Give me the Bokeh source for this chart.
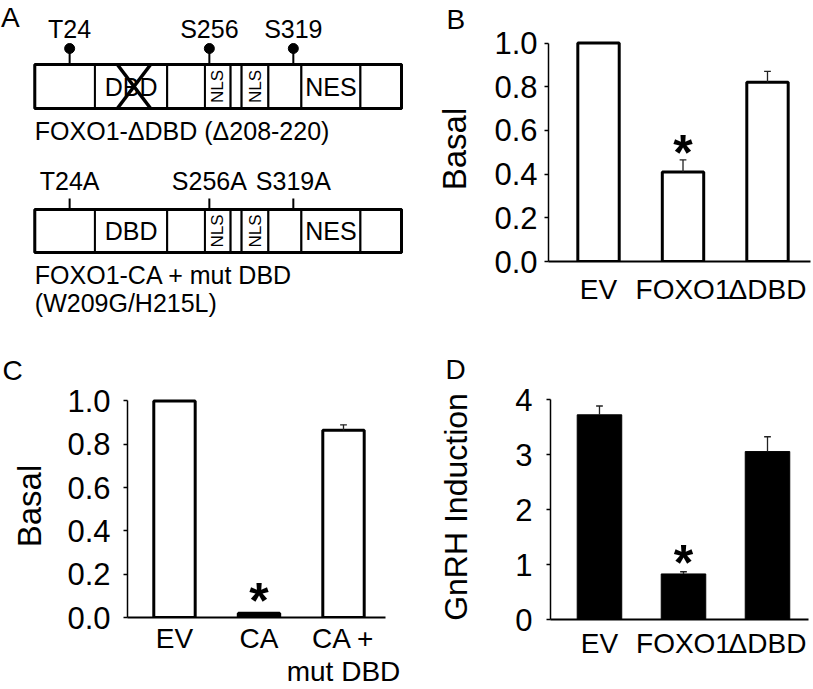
import math
from bokeh.plotting import figure
from bokeh.layouts import column, row
from bokeh.models import Range1d, FixedTicker, PrintfTickFormatter
from bokeh.embed import file_html
from bokeh.resources import INLINE
from bokeh.core.properties import value

FONT = "Liberation Sans"

# ---------------- data ----------------
# Panel B: basal activity
b_groups = ["EV", "FOXO1", "ΔDBD"]
b_basal = [1.00, 0.41, 0.82]
b_err = [0.0, 0.055, 0.05]
b_sig = [False, True, False]

# Panel C: basal activity, constitutively active mutants
c_groups = ["EV", "CA", "CA +\nmut DBD"]
c_basal = [1.00, 0.02, 0.865]
c_err = [0.0, 0.0, 0.025]
c_sig = [False, True, False]

# Panel D: GnRH induction
d_groups = ["EV", "FOXO1", "ΔDBD"]
d_induction = [3.73, 0.83, 3.06]
d_err = [0.16, 0.04, 0.27]
d_sig = [False, True, False]

# Panel A: domain map (percent of construct length)
a_domain_edges = [0, 16.4, 36.1, 46.4, 53.4, 56.4, 63.7, 72.7, 88.8, 100]
a_domain_names = ["", "DBD", "", "NLS", "", "NLS", "", "NES", ""]
a_site_pos = [9.5, 47.6, 70.5]
a_sites_wt = ["T24", "S256", "S319"]
a_sites_mut = ["T24A", "S256A", "S319A"]
a_deleted_span = [22.5, 31.6]
a_caption_wt = "FOXO1-ΔDBD (Δ208-220)"
a_caption_mut = ["FOXO1-CA + mut DBD", "(W209G/H215L)"]


# ---------------- panel A ----------------
pa = figure(width=420, height=320, x_range=Range1d(-9.354, 105.18), y_range=Range1d(320, 0),
            output_backend="svg", toolbar_location=None, x_axis_location=None,
            y_axis_location=None, min_border=0, frame_align=False)
pa.grid.visible = False
pa.outline_line_color = None

SH = 9  # baseline correction for 25px text


def atext(x, y, t, size="25px", align="left", **kw):
    pa.text(x=x, y=y, text=t, text_font=value(FONT), text_font_size=size,
            text_align=align, text_baseline="alphabetic", text_color="black", **kw)


def construct(top, bottom, sites, lollipop, stem_top, label_base, crossed):
    lefts = a_domain_edges[:-1]
    rights = a_domain_edges[1:]
    pa.quad(left=lefts, right=rights, top=top, bottom=bottom, fill_color="white",
            line_color="black", line_width=2)
    pa.quad(left=[a_domain_edges[0]], right=[a_domain_edges[-1]], top=top, bottom=bottom,
            fill_color=None, line_color="black", line_width=3)
    mid = (top + bottom) / 2
    hx, hn, vx, vn = [], [], [], []
    for l, r, n in zip(lefts, rights, a_domain_names):
        if not n:
            continue
        if n == "NLS":
            vx.append((l + r) / 2); vn.append(n)
        else:
            hx.append((l + r) / 2); hn.append(n)
    atext(hx, [mid + 9 - SH] * len(hx), hn, align="center")
    pa.text(x=vx, y=[mid] * len(vx), text=vn, text_font=value(FONT), text_font_size="17px",
            text_align="center", text_baseline="middle", angle=math.pi / 2, text_color="black")
    pa.segment(x0=a_site_pos, y0=[top] * 3, x1=a_site_pos, y1=[stem_top] * 3,
               line_color="black", line_width=2)
    if lollipop:
        pa.scatter(x=a_site_pos, y=[stem_top] * 3, size=10, fill_color="black", line_color="black")
    atext(a_site_pos, [label_base - SH] * 3, sites, align="center")
    if crossed:
        l, r = a_deleted_span
        pa.segment(x0=[l, r], y0=[top, top], x1=[r, l], y1=[bottom, bottom],
                   line_color="black", line_width=3.5)


construct(64, 108, a_sites_wt, True, 48, 37, True)
construct(209, 252, a_sites_mut, False, 198, 189.5, False)
atext([0], [139.5 - SH], [a_caption_wt])
atext([0, 0], [283.5 - SH, 311.5 - SH], a_caption_mut)
atext([-9.2], [27 - 10], ["A"], size="28px")


# ---------------- bar panels ----------------
def bar_panel(groups, vals, errs, sig, *, size, borders, x_range, y_end, y_max,
              y_ticks, y_fmt, ylabel, ylabel_size, fill, bar_w, line_w, letter, letter_dx,
              letter_standoff, tick_standoff, label_standoff, x_font, x_standoff, star_dy):
    w, h = size
    l, r, t, b = borders
    p = figure(width=w, height=h, x_range=Range1d(*x_range), y_range=Range1d(0, y_end),
               output_backend="svg", toolbar_location=None, frame_align=False,
               min_border_left=l, min_border_right=r, min_border_top=t, min_border_bottom=b)
    p.grid.visible = False
    p.outline_line_color = None
    p.title.text = letter
    p.title.align = "left"
    p.title.offset = letter_dx
    p.title.standoff = letter_standoff
    p.title.text_font = FONT
    p.title.text_font_size = "28px"
    p.title.text_font_style = "normal"
    p.title.text_color = "black"

    xs = list(range(len(groups)))
    fills = ["black" if (fill == "white" and v < 0.05) else fill for v in vals]
    p.vbar(x=xs, top=vals, bottom=0, width=bar_w, fill_color=fills, line_color="black",
           line_width=line_w)
    ex = [x for x, e in zip(xs, errs) if e > 0]
    ey0 = [v for v, e in zip(vals, errs) if e > 0]
    ey1 = [v + e for v, e in zip(vals, errs) if e > 0]
    p.segment(x0=ex, y0=ey0, x1=ex, y1=ey1, line_color="#222222", line_width=1.3)
    p.segment(x0=[x - 0.04 for x in ex], y0=ey1, x1=[x + 0.04 for x in ex], y1=ey1,
              line_color="#222222", line_width=1.3)
    sx = [x for x, s in zip(xs, sig) if s]
    sy = [v + e for v, e, s in zip(vals, errs, sig) if s]
    p.text(x=sx, y=sy, text=["*"] * len(sx), text_font=value(FONT), text_font_style="bold",
           text_font_size="50px", text_align="center", text_baseline="alphabetic",
           y_offset=star_dy, text_color="black")

    ax = p.xaxis[0]
    ax.ticker = FixedTicker(ticks=xs)
    ax.major_label_overrides = {x: g for x, g in zip(xs, groups)}
    ax.major_tick_line_color = None
    ax.major_tick_out = 0
    ax.major_tick_in = 0
    ax.minor_tick_line_color = None
    ax.minor_tick_out = 0
    ax.major_label_text_font = FONT
    ax.major_label_text_font_size = x_font
    ax.major_label_text_color = "black"
    ax.major_label_text_line_height = 1.08
    ax.major_label_standoff = x_standoff
    ax.axis_line_width = 2
    ax.axis_line_color = "black"

    ay = p.yaxis[0]
    ay.ticker = FixedTicker(ticks=y_ticks)
    ay.formatter = PrintfTickFormatter(format=y_fmt)
    ay.bounds = (0, y_max)
    ay.major_tick_out = 4
    ay.major_tick_in = 0
    ay.major_tick_line_width = 1.5
    ay.major_tick_line_color = "black"
    ay.minor_tick_line_color = None
    ay.major_label_text_font = FONT
    ay.major_label_text_font_size = "31px"
    ay.major_label_text_color = "black"
    ay.major_label_standoff = tick_standoff
    ay.axis_line_width = 1.5
    ay.axis_line_color = "black"
    ay.axis_label = ylabel
    ay.axis_label_text_font = FONT
    ay.axis_label_text_font_size = ylabel_size
    ay.axis_label_text_font_style = "normal"
    ay.axis_label_text_color = "black"
    ay.axis_label_standoff = label_standoff
    return p


pb = bar_panel(b_groups, b_basal, b_err, b_sig, size=(393, 320),
               borders=(128, 3, 34, 59), x_range=(-0.592, 2.509), y_end=1.03, y_max=1.0,
               y_ticks=[0, 0.2, 0.4, 0.6, 0.8, 1.0], y_fmt="%.1f", ylabel="Basal",
               ylabel_size="33px", fill="white", bar_w=0.49, line_w=3, letter="B",
               letter_dx=-102, letter_standoff=3, tick_standoff=7, label_standoff=18,
               x_font="28px", x_standoff=12, star_dy=-7)

pc = bar_panel(c_groups, c_basal, c_err, c_sig, size=(420, 369),
               borders=(127, 35, 74, 70), x_range=(-0.556, 2.497), y_end=1.03, y_max=1.0,
               y_ticks=[0, 0.2, 0.4, 0.6, 0.8, 1.0], y_fmt="%.1f", ylabel="Basal",
               ylabel_size="33px", fill="white", bar_w=0.49, line_w=3, letter="C",
               letter_dx=-125, letter_standoff=18, tick_standoff=13, label_standoff=16,
               x_font="28px", x_standoff=5, star_dy=-12)

pd = bar_panel(d_groups, d_induction, d_err, d_sig, size=(393, 369),
               borders=(130, 5, 74, 70), x_range=(-0.583, 2.488), y_end=4.1, y_max=4,
               y_ticks=[0, 1, 2, 3, 4], y_fmt="%d", ylabel="GnRH Induction",
               ylabel_size="32px", fill="black", bar_w=0.53, line_w=1, letter="D",
               letter_dx=-105, letter_standoff=19, tick_standoff=14, label_standoff=38,
               x_font="28px", x_standoff=8, star_dy=-9)

layout = column(row(pa, pb), row(pc, pd))
open("out.html", "w").write(file_html(layout, INLINE))
